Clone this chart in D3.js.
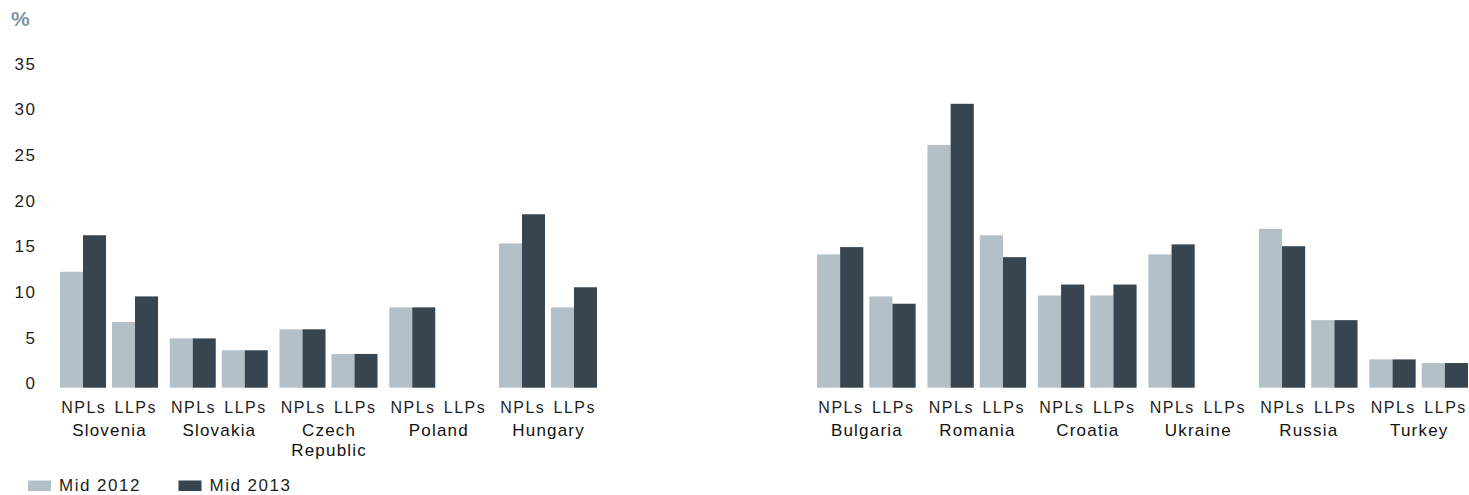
<!DOCTYPE html>
<html>
<head>
<meta charset="utf-8">
<script src="https://cdn.jsdelivr.net/npm/d3@7"></script>
<style>
  html, body { margin: 0; padding: 0; background: #fff; }
  svg { display: block; font-family: "Liberation Sans", Arial, Helvetica, sans-serif; }
</style>
</head>
<body>
<svg id="chart" width="1469" height="495"></svg>
<script>
// ---- Data ----
const seriesNames = ["Mid 2012", "Mid 2013"];
const measures = ["NPLs", "LLPs"];
const yTicks = [0, 5, 10, 15, 20, 25, 30, 35];
const unitLabel = "%";

const countriesLeft = ["Slovenia", "Slovakia", "Czech Republic", "Poland", "Hungary"];
const nplMid2012Left = [12.7, 5.4, 6.4, 8.8, 15.8];
const nplMid2013Left = [16.7, 5.4, 6.4, 8.8, 19.0];
const llpMid2012Left = [7.2, 4.1, 3.7, null, 8.8];
const llpMid2013Left = [10.0, 4.1, 3.7, null, 11.0];

const countriesRight = ["Bulgaria", "Romania", "Croatia", "Ukraine", "Russia", "Turkey"];
const nplMid2012Right = [14.6, 26.6, 10.1, 14.6, 17.4, 3.1];
const nplMid2013Right = [15.4, 31.1, 11.3, 15.7, 15.5, 3.1];
const llpMid2012Right = [10.0, 16.7, 10.1, null, 7.4, 2.7];
const llpMid2013Right = [9.2, 14.3, 11.3, null, 7.4, 2.7];

// ---- Styles ----
const colors = { "Mid 2012": "#b4c0c7", "Mid 2013": "#36454f" };
const textColor = "#1e1e1e";

const svg = d3.select("#chart");

const y = d3.scaleLinear().domain([0, 35]).range([387.7, 68.2]);

// Y axis
const yAxis = svg.append("g")
  .attr("transform", "translate(36.5,0)")
  .call(d3.axisLeft(y).tickValues(yTicks).tickSize(0).tickPadding(0));
yAxis.select(".domain").remove();
yAxis.selectAll("text")
  .attr("dy", null)
  .attr("y", 1)
  .attr("fill", textColor)
  .style("font-size", "17px")
  .style("letter-spacing", "1.6px")
  .style("font-family", "'Liberation Sans', Arial, sans-serif");

svg.append("text")
  .attr("x", 11).attr("y", 26)
  .attr("fill", "#8494a0")
  .style("font-size", "21px")
  .style("font-weight", "bold")
  .style("letter-spacing", "1px")
  .text(unitLabel);

function buildRows(countries, n12, n13, l12, l13) {
  return countries.map((c, i) => ({
    country: c,
    groups: [
      { measure: "NPLs", values: [n12[i], n13[i]] },
      { measure: "LLPs", values: [l12[i], l13[i]] }
    ]
  }));
}

function drawPanel(rows, range) {
  const x0 = d3.scaleBand().domain(rows.map(d => d.country)).range(range)
    .paddingInner(0.107).paddingOuter(0);
  const x1 = d3.scaleBand().domain(measures).range([0, x0.bandwidth()])
    .paddingInner(0.1154).paddingOuter(0);
  const x2 = d3.scaleBand().domain(seriesNames).range([0, x1.bandwidth()]).padding(0);

  const g = svg.append("g");
  const cg = g.selectAll("g.country").data(rows).join("g")
    .attr("class", "country")
    .attr("transform", d => `translate(${x0(d.country)},0)`);

  const mg = cg.selectAll("g.measure").data(d => d.groups).join("g")
    .attr("class", "measure")
    .attr("transform", d => `translate(${x1(d.measure)},0)`);

  mg.selectAll("rect")
    .data(d => d.values.map((v, k) => ({ series: seriesNames[k], value: v })).filter(e => e.value != null))
    .join("rect")
    .attr("x", d => x2(d.series))
    .attr("width", x2.bandwidth())
    .attr("y", d => y(d.value))
    .attr("height", d => y(0) - y(d.value))
    .attr("fill", d => colors[d.series]);

  mg.append("text")
    .attr("x", x1.bandwidth() / 2 + 0.75)
    .attr("y", 413)
    .attr("text-anchor", "middle")
    .attr("fill", textColor)
    .style("font-size", "16px")
    .style("letter-spacing", "1.5px")
    .text(d => d.measure);

  cg.each(function(d) {
    const words = d.country.split(" ");
    const t = d3.select(this).append("text")
      .attr("text-anchor", "middle")
      .attr("fill", "#111")
      .style("font-size", "17px")
      .style("letter-spacing", "1.2px");
    words.forEach((w, i) => {
      t.append("tspan")
        .attr("x", x0.bandwidth() / 2 + 0.6)
        .attr("y", 436 + i * 19.5)
        .text(w);
    });
  });
}

drawPanel(buildRows(countriesLeft, nplMid2012Left, nplMid2013Left, llpMid2012Left, llpMid2013Left), [60, 597]);
drawPanel(buildRows(countriesRight, nplMid2012Right, nplMid2013Right, llpMid2012Right, llpMid2013Right), [817, 1468]);

// Legend
const legend = svg.append("g").attr("transform", "translate(28,480.5)");
const li = legend.selectAll("g").data(seriesNames).join("g")
  .attr("transform", (d, i) => `translate(${i * 150.5},0)`);
li.append("rect").attr("width", 23).attr("height", 10.5).attr("fill", d => colors[d]);
li.append("text")
  .attr("x", 31).attr("y", 10.5)
  .attr("fill", textColor)
  .style("font-size", "17px")
  .style("letter-spacing", "1.5px")
  .text(d => d);
</script>
</body>
</html>
